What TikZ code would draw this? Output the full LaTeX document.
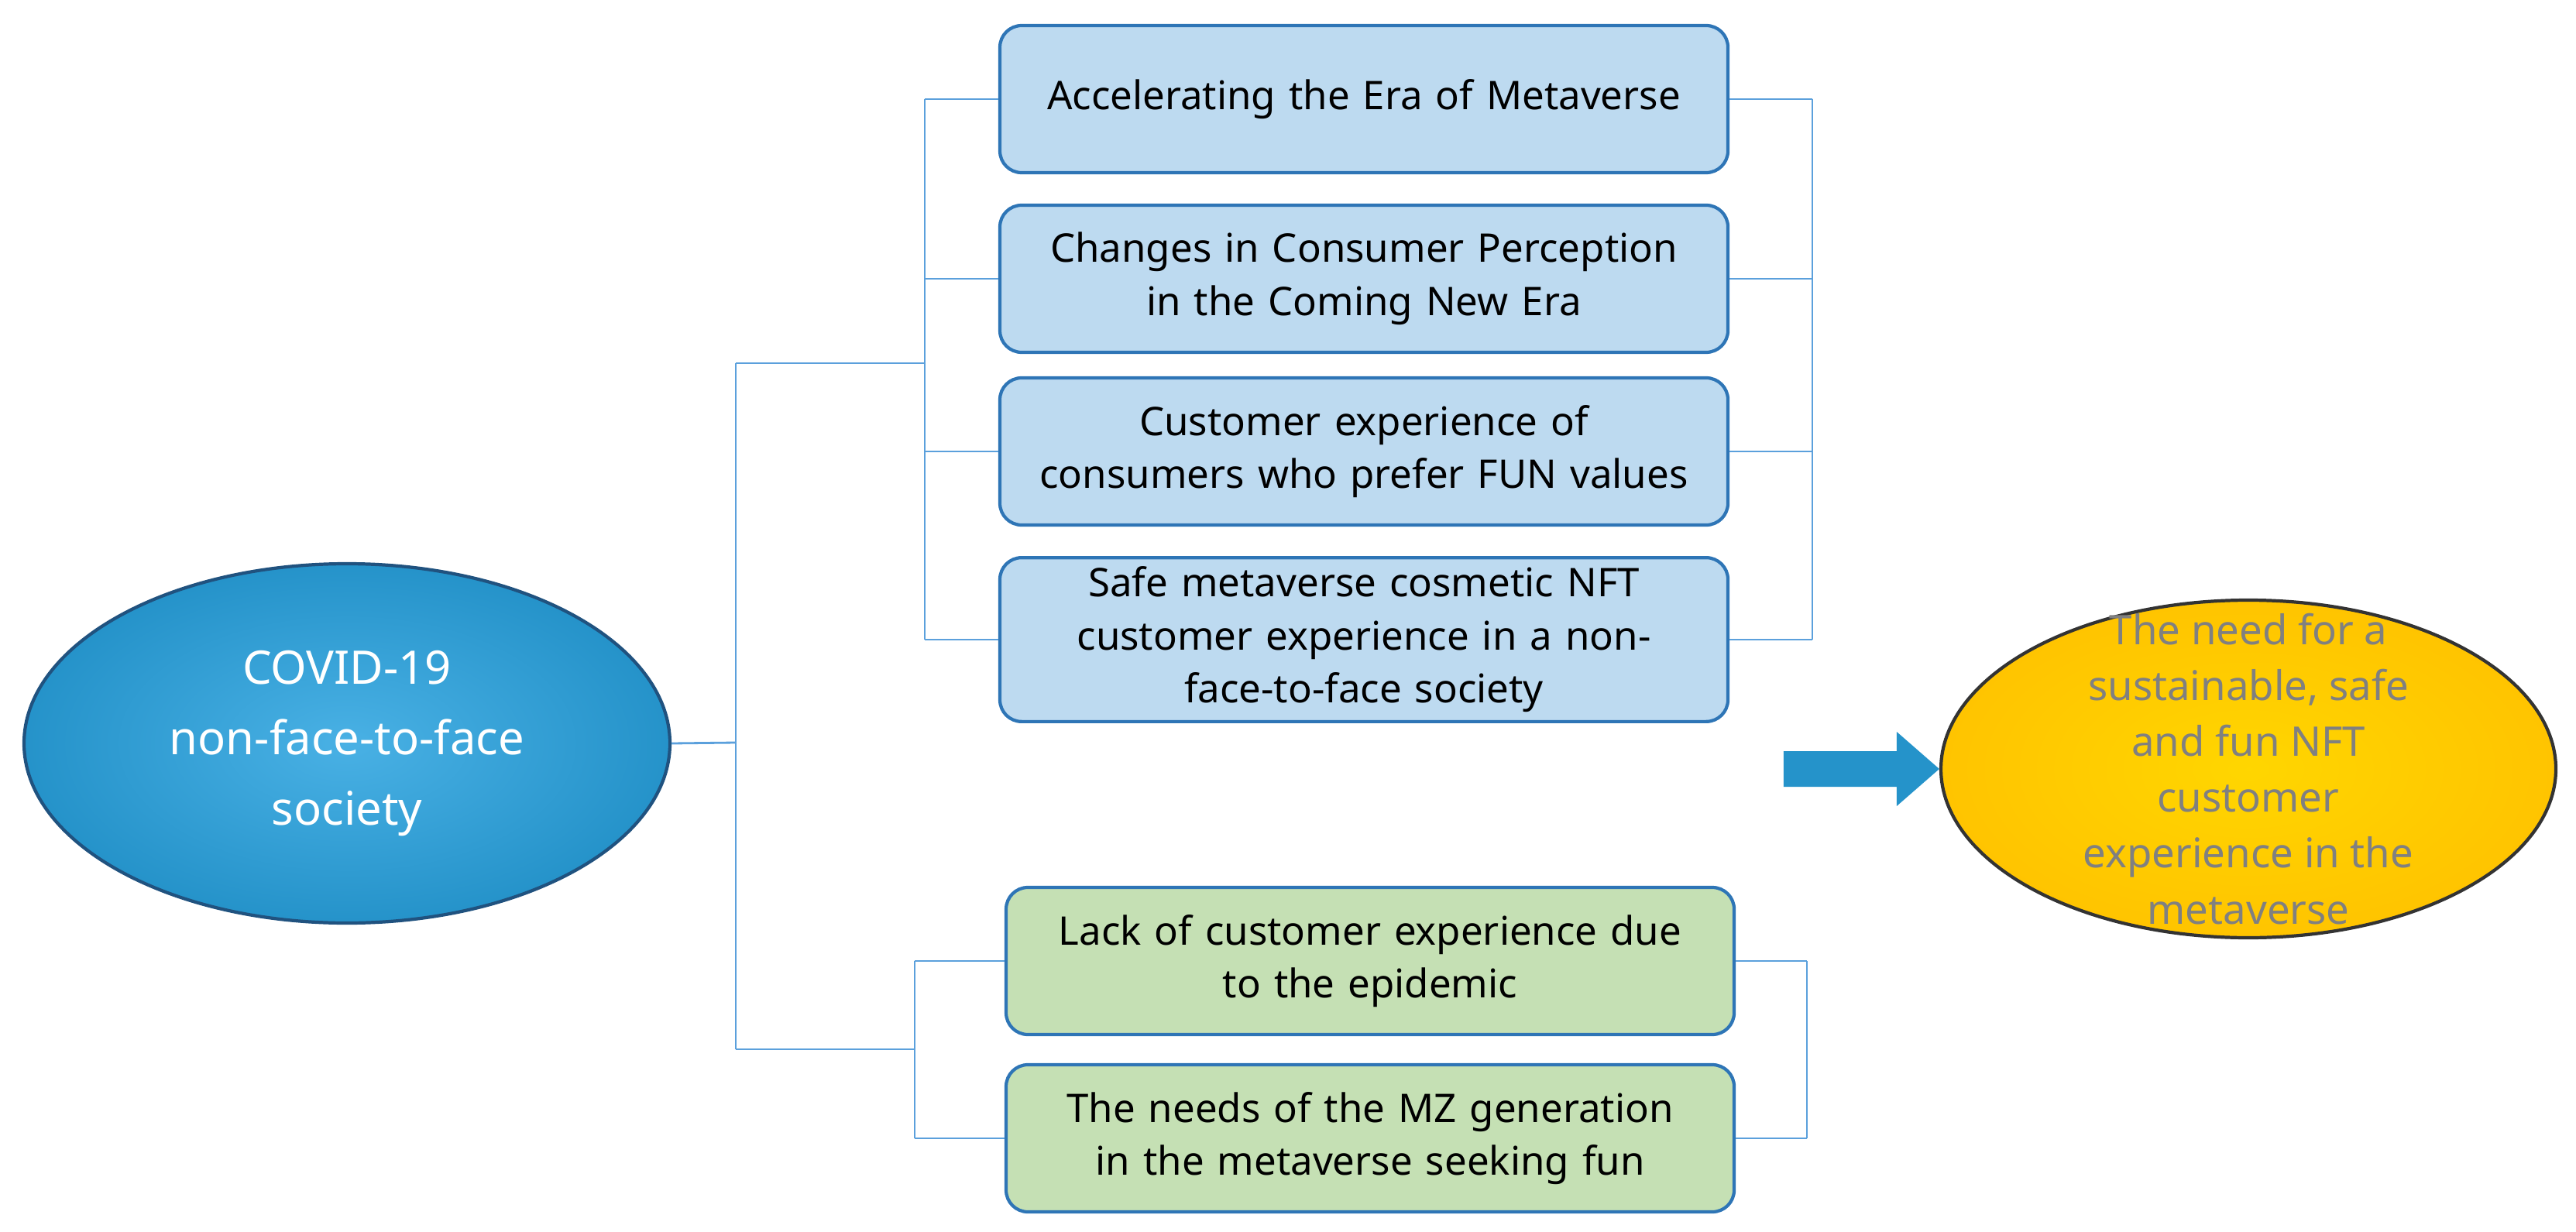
\documentclass[tikz,border=0pt]{standalone}
\usepackage{fontspec}
\setmainfont{Noto Sans}
\usetikzlibrary{shapes.geometric}
\definecolor{nft@blue}{RGB}{41,163,224}
\definecolor{nft@boxblue}{RGB}{189,218,240}
\definecolor{nft@edge}{RGB}{46,117,182}
\definecolor{nft@green}{RGB}{197,224,180}
\definecolor{nft@line}{RGB}{91,160,220}
\definecolor{nft@gold}{RGB}{255,196,0}
\tikzset{
  box/.style={draw=nft@edge, line width=1.2pt, rounded corners=8pt,
    minimum width=9.4cm, minimum height=1.9cm, align=center,
    font=\fontsize{14.5}{19.5}\selectfont, text width=8.8cm},
  bluebox/.style={box, fill=nft@boxblue},
  greenbox/.style={box, fill=nft@green},
  conn/.style={nft@line, line width=0.8pt},
}

\begin{document}
\begin{tikzpicture}
\useasboundingbox (0,0) rectangle (33.26,-15.91);

% cause
\node[ellipse, draw=nft@edge!70!black, line width=1.2pt,
  inner color=nft@blue!85!white, outer color=nft@blue!90!black,
  minimum width=8.34cm, minimum height=4.64cm, align=center,
  text=white, font=\fontsize{17}{26}\selectfont]
  (covid) at (4.48,-9.60) {COVID-19\\non-face-to-face\\society};

% upper group
\node[bluebox] (era)    at (17.61,-1.28) {Accelerating the Era of Metaverse};
\node[bluebox] (change) at (17.61,-3.60) {Changes in Consumer Perception\\in the Coming New Era};
\node[bluebox] (fun)    at (17.61,-5.83) {Customer experience of\\consumers who prefer FUN values};
\node[bluebox] (safe)   at (17.61,-8.26) {Safe metaverse cosmetic NFT\\customer experience in a non-\\face-to-face society};

% lower group
\node[greenbox] (lack)  at (17.69,-12.41) {Lack of customer experience due\\to the epidemic};
\node[greenbox] (mz)    at (17.69,-14.70) {The needs of the MZ generation\\in the metaverse seeking fun};

% result
\node[ellipse, draw=black!80, line width=1.2pt, inner sep=0pt,
  inner color=nft@gold!70!yellow, outer color=nft@gold,
  minimum width=7.94cm, minimum height=4.36cm,
  label={[align=center, text=black!50, font=\fontsize{15}{20.5}\selectfont]center:The need for a\\sustainable, safe\\and fun NFT\\customer\\experience in the\\metaverse}]
  (need) at (29.03,-9.93) {};

% big arrow
\fill[nft@blue!90!black] (need.west)
  -- ++(-0.55,0.48) -- ++(0,-0.25) -- ++(-1.46,0)
  -- ++(0,-0.46) -- ++(1.46,0) -- ++(0,-0.25) -- cycle;

% tree on the left
\coordinate (trunk) at (9.50,-9.59);
\coordinate (top)   at (9.50,-4.69);
\coordinate (bot)   at (9.50,-13.55);
\coordinate (up)    at (11.94,-4.69);
\coordinate (low)   at (11.81,-13.55);
\draw[conn] (covid.east) -- (trunk);
\draw[conn] (top) -- (bot);
\draw[conn] (top) -- (up);
\draw[conn] (bot) -- (low);
\draw[conn] (era.west -| up) -- (safe.west -| up);
\foreach \n in {era,change,fun,safe}
  \draw[conn] (\n.west -| up) -- (\n.west);
\draw[conn] (lack.west -| low) -- (mz.west -| low);
\foreach \n in {lack,mz}
  \draw[conn] (\n.west -| low) -- (\n.west);

% brackets on the right
\coordinate (rup)  at (23.40,0);
\coordinate (rlow) at (23.33,0);
\draw[conn] (era.east -| rup) -- (safe.east -| rup);
\foreach \n in {era,change,fun,safe}
  \draw[conn] (\n.east) -- (\n.east -| rup);
\draw[conn] (lack.east -| rlow) -- (mz.east -| rlow);
\foreach \n in {lack,mz}
  \draw[conn] (\n.east) -- (\n.east -| rlow);

\end{tikzpicture}
\end{document}
